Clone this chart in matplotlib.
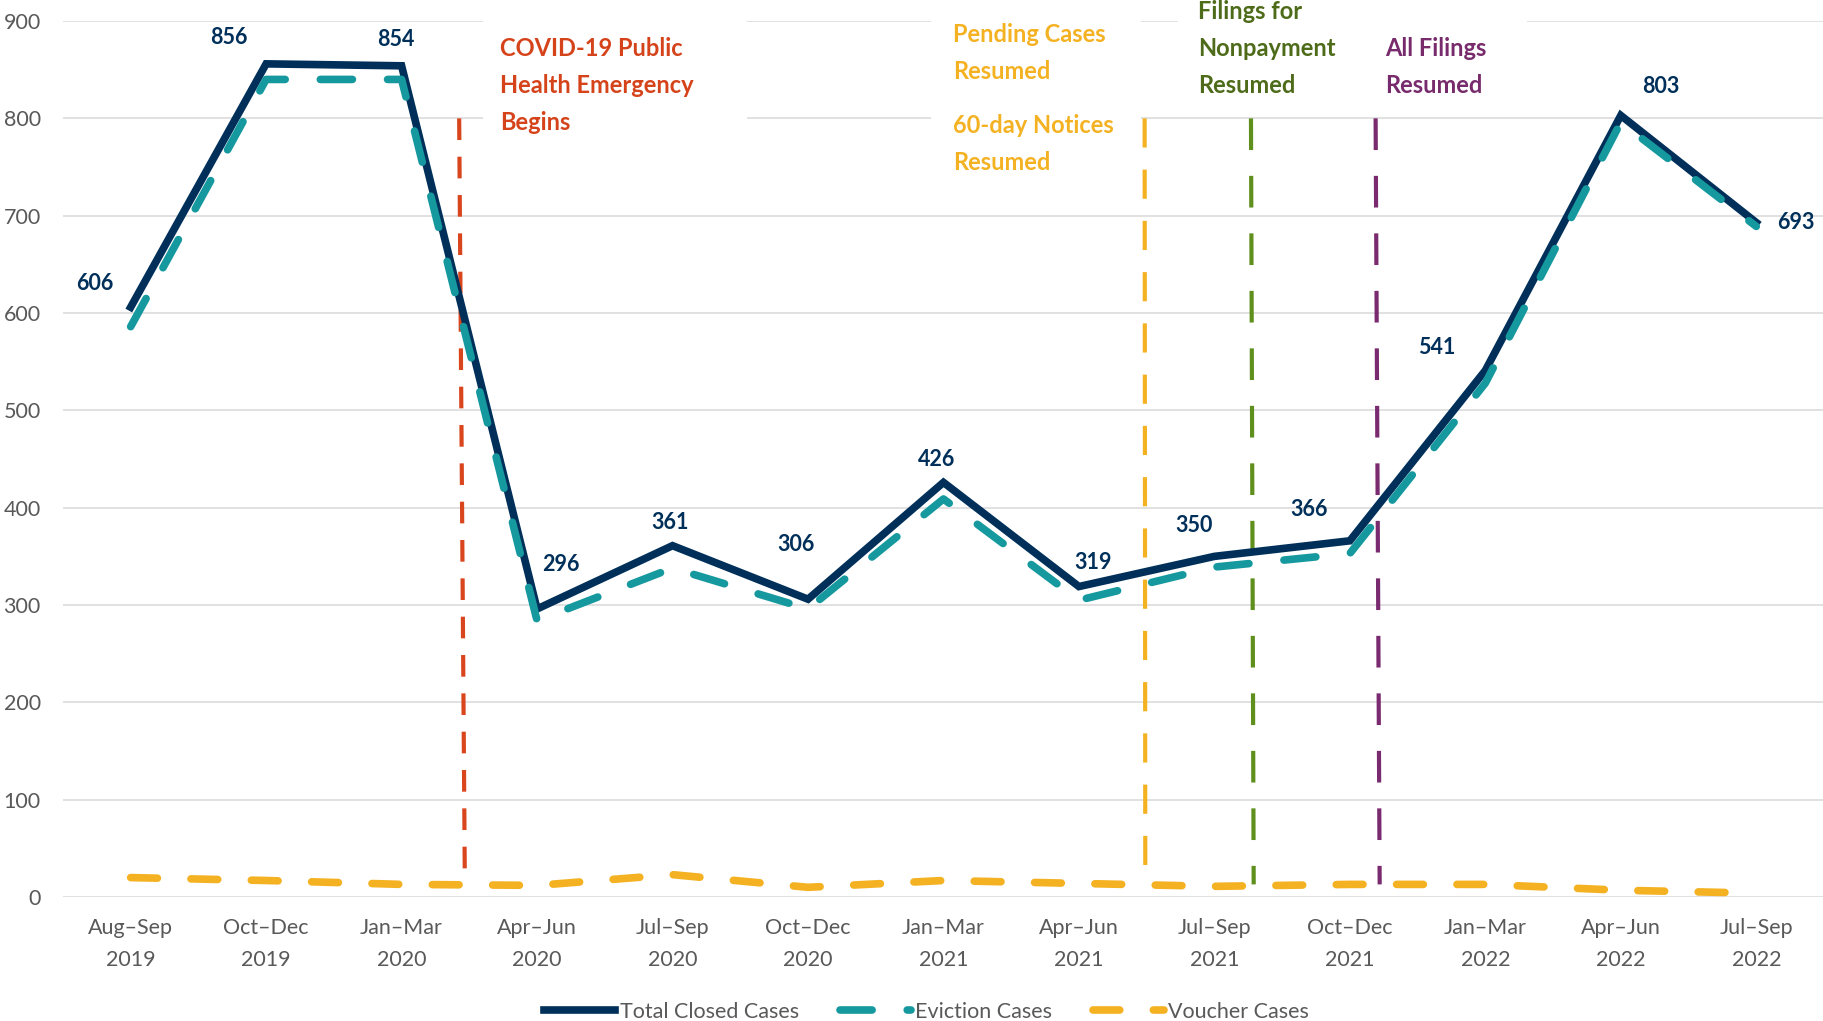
import matplotlib
matplotlib.use("Agg")
import matplotlib.pyplot as plt
from matplotlib.patches import Rectangle

# Data
periods = ["Aug–Sep\n2019", "Oct–Dec\n2019", "Jan–Mar\n2020", "Apr–Jun\n2020",
           "Jul–Sep\n2020", "Oct–Dec\n2020", "Jan–Mar\n2021", "Apr–Jun\n2021",
           "Jul–Sep\n2021", "Oct–Dec\n2021", "Jan–Mar\n2022", "Apr–Jun\n2022",
           "Jul–Sep\n2022"]
total = [606, 856, 854, 296, 361, 306, 426, 319, 350, 366, 541, 803, 693]
eviction = [586, 840, 840, 284, 338, 296, 409, 305, 339, 353, 528, 796, 689]
voucher = [20, 17, 13, 12, 23, 10, 17, 14, 11, 13, 13, 7, 4]

# event markers (category position at top / bottom of the line)
event_x_top = [2.425, 7.485, 8.27, 9.19]
event_x_bot = [2.467, 7.49, 8.29, 9.22]
event_colors = ["#D9461E", "#F4B223", "#5F8F1D", "#7A2A6F"]
event_dashes = [(5.2, 4.0), (7.0, 5.3), (7.6, 6.2), (7.6, 6.2)]

# label offsets (pixels) for the total series
label_off = [(-36, 24), (-37, 26), (-6, 26), (24, 44), (-2, 23), (-12, 55), (-7, 23),
             (14, 24), (-20, 31), (-41, 31), (-49, 23), (40, 29), (40, 0)]

plt.rcParams["font.family"] = ["Lato", "DejaVu Sans"]

fig = plt.figure(figsize=(18.24, 10.21), dpi=100)
ax = fig.add_axes([0.0345, 0.1214, 0.9655, 0.858])

x = list(range(len(periods)))
navy = "#00305A"
teal = "#16999E"
gold = "#F4B223"
grey = "#595959"
fs = 15.5

# white boxes behind the annotation texts
for (x0, x1, y0, y1) in [(2.60, 4.55, 770, 940), (5.91, 7.46, 730, 940), (7.73, 10.31, 812, 940)]:
    ax.add_patch(Rectangle((x0, y0), x1 - x0, y1 - y0, facecolor="white",
                           edgecolor="none", zorder=1, clip_on=False))

for xt, xb, c, d in zip(event_x_top, event_x_bot, event_colors, event_dashes):
    ax.plot([xt, xb], [800, 13], color=c, lw=3, dashes=d, solid_capstyle="butt",
            dash_capstyle="butt", zorder=2)

l1, = ax.plot(x, total, color=navy, lw=5.5, solid_joinstyle="miter", zorder=4,
              label="Total Closed Cases")
l2, = ax.plot(x, eviction, color=teal, lw=5.5, dashes=(4.2, 4.6), dash_capstyle="round",
              zorder=5, label="Eviction Cases")
l3, = ax.plot(x, voucher, color=gold, lw=5.5, dashes=(3.5, 4.4), dash_capstyle="round",
              zorder=5, label="Voucher Cases")

for xi, v, off in zip(x, total, label_off):
    ax.annotate(str(v), (xi, v), xytext=off, textcoords="offset pixels",
                ha="center", va="center", fontsize=fs, fontweight="bold",
                color=navy, zorder=6)

# annotation texts
notes = [
    (["COVID-19 Public", "Health Emergency", "Begins"], 2.73, 872, "#D5431B"),
    (["Pending Cases", "Resumed"], 6.07, 886, gold),
    (["60-day Notices", "Resumed"], 6.07, 793, gold),
    (["Filings for", "Nonpayment", "Resumed"], 7.88, 910, "#4E6B1A"),
    (["All Filings", "Resumed"], 9.26, 872, "#772B6C"),
]
for lines, tx, ty, c in notes:
    for k, s in enumerate(lines):
        ax.text(tx, ty - k * 38, s, color=c, fontsize=17, fontweight="bold",
                ha="left", va="center", zorder=6)

ax.set_xlim(-0.5, 12.5)
ax.set_ylim(0, 900)
ax.set_yticks(range(0, 901, 100))
ax.set_xticks(x)
ax.set_xticklabels(periods)
for lab in ax.get_xticklabels():
    lab.set_linespacing(1.75)
ax.tick_params(axis="both", length=0, labelsize=fs, labelcolor=grey)
ax.tick_params(axis="x", pad=15)
ax.tick_params(axis="y", pad=16)
ax.grid(axis="y", color="#D9D9D9", lw=1.1)
ax.set_axisbelow(True)
for s in ax.spines.values():
    s.set_visible(False)

fig.legend(handles=[l1, l2, l3], loc="center", bbox_to_anchor=(0.508, 0.009),
           ncol=3, frameon=False, fontsize=fs, labelcolor=grey,
           handlelength=3.3, handletextpad=0.2, columnspacing=1.9)

fig.savefig("out.png", dpi=100)
